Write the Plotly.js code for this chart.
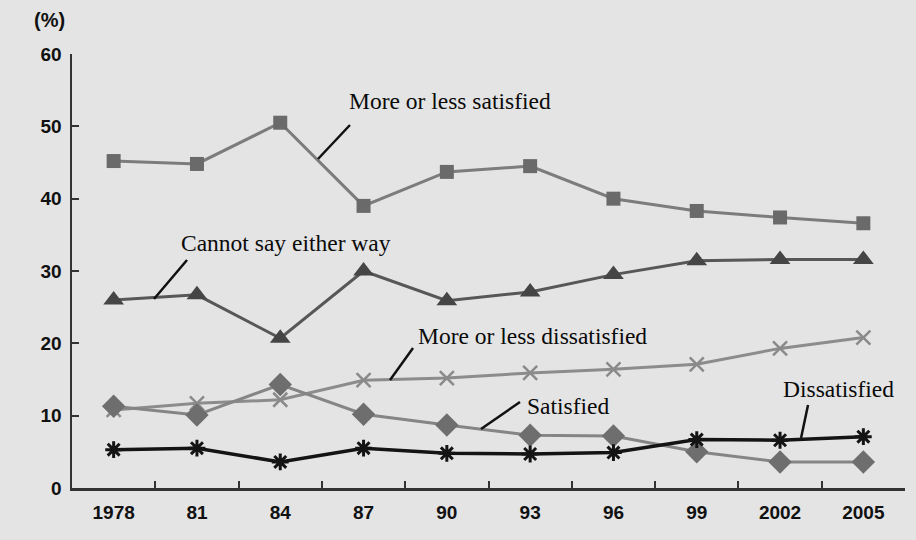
<!DOCTYPE html>
<html><head><meta charset="utf-8">
<script src="https://cdn.plot.ly/plotly-3.0.1.min.js"></script>
<style>html,body{margin:0;padding:0;background:#e4e4e4;}#chart{width:916px;height:540px;}</style>
</head><body><div id="chart"></div>
<script>
const years = ['1978','81','84','87','90','93','96','99','2002','2005'];
const moreOrLessSatisfied = [45.2, 44.8, 50.5, 39.0, 43.7, 44.5, 40.0, 38.3, 37.4, 36.6];
const cannotSay = [26.0, 26.7, 20.7, 30.0, 25.9, 27.1, 29.5, 31.4, 31.6, 31.6];
const moreOrLessDissatisfied = [10.8, 11.7, 12.2, 14.9, 15.2, 15.9, 16.4, 17.1, 19.3, 20.8];
const satisfied = [11.3, 10.1, 14.3, 10.2, 8.7, 7.3, 7.2, 5.0, 3.6, 3.6];
const dissatisfied = [5.3, 5.5, 3.6, 5.5, 4.8, 4.7, 4.9, 6.7, 6.6, 7.1];
const yTicks = [0, 10, 20, 30, 40, 50, 60];

function tr(y, lineColor, sym, mColor, size, mLine, lw) {
  return {x: years, y: y, type: 'scatter', mode: 'lines+markers',
    line: {color: lineColor, width: lw || 3},
    marker: {symbol: sym, size: size, color: mColor, line: {color: mLine.color, width: mLine.width}},
    showlegend: false, hoverinfo: 'skip'};
}
const data = [
  tr(moreOrLessSatisfied, '#7c7c7c', 'square', '#6a6a6a', 14, {color: '#6a6a6a', width: 0}),
  tr(cannotSay, '#575757', 'triangle-up', '#454545', 18, {color: '#454545', width: 0}),
  tr(moreOrLessDissatisfied, '#8c8c8c', 'x-thin-open', '#8a8a8a', 14, {color: '#8a8a8a', width: 2.5}),
  tr(satisfied, '#858585', 'diamond', '#6e6e6e', 18, {color: '#6e6e6e', width: 0}),
  tr(dissatisfied, '#141414', 'asterisk-open', '#141414', 14, {color: '#141414', width: 3}, 3.5)
];
const serif = {family: 'Liberation Serif', size: 23.5, color: '#0a0a0a'};
function note(text, x, y) {
  return {text: text, x: x, y: y, xref: 'paper', yref: 'paper', showarrow: false,
    xanchor: 'center', yanchor: 'middle', font: serif};
}
function leader(x0, y0, x1, y1) {
  return {type: 'line', xref: 'paper', yref: 'paper', x0: x0, y0: y0, x1: x1, y1: y1,
    line: {color: '#111', width: 2.5}};
}
const tickFont = {family: 'Liberation Sans', size: 19, color: '#111', weight: 'bold'};
const pctFont = {family: 'Liberation Sans', size: 20, color: '#111', weight: 'bold'};
const layout = {
  width: 916, height: 540,
  font: {family: 'Liberation Sans'},
  margin: {l: 72, r: 11, t: 54, b: 52},
  paper_bgcolor: '#e4e4e4', plot_bgcolor: '#e4e4e4',
  xaxis: {type: 'category', range: [-0.5, 9.5], tickson: 'boundaries', ticks: 'inside',
    ticklen: 7, tickwidth: 2, tickcolor: '#333', showline: true, linecolor: '#333', linewidth: 2.5,
    showgrid: false, zeroline: false, tickfont: tickFont, ticklabelstandoff: 6, fixedrange: true},
  yaxis: {range: [0, 60], tickvals: yTicks, ticks: 'inside', ticklen: 7, tickwidth: 2,
    tickcolor: '#333', showline: true, linecolor: '#333', linewidth: 2.5, showgrid: false,
    zeroline: false, tickfont: tickFont, ticklabelstandoff: 4, fixedrange: true},
  annotations: [
    note('More or less satisfied', 0.4538, 0.8917),
    note('Cannot say either way', 0.2569, 0.5645),
    note('More or less dissatisfied', 0.5534, 0.3502),
    note('Satisfied', 0.5954, 0.1889),
    note('Dissatisfied', 0.9196, 0.2281),
    {text: '(%)', x: -0.0276, y: 1.078, xref: 'paper', yref: 'paper', showarrow: false,
     xanchor: 'center', yanchor: 'middle', font: pctFont}
  ],
  shapes: [
    leader(0.2953, 0.7581, 0.3337, 0.8364),
    leader(0.0984, 0.4355, 0.1381, 0.5253),
    leader(0.3818, 0.2488, 0.4094, 0.3226),
    leader(0.4910, 0.1359, 0.5378, 0.1982),
    leader(0.8752, 0.1152, 0.8836, 0.1912)
  ]
};
Plotly.newPlot('chart', data, layout, {displayModeBar: false, staticPlot: true});
</script></body></html>
